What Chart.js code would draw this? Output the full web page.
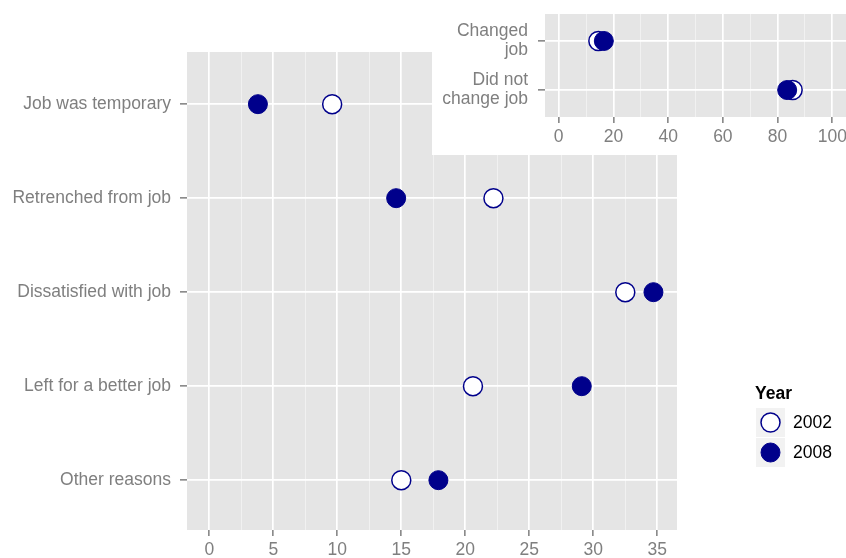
<!DOCTYPE html>
<html>
<head>
<meta charset="utf-8">
<script src="https://cdn.jsdelivr.net/npm/chart.js@4.4.1/dist/chart.umd.min.js"></script>
<style>
	html, body { margin: 0; padding: 0; background: #fff; overflow: hidden; }
	#wrap { position: relative; width: 846px; height: 558px; }
	#mainChart { position: absolute; left: 0; top: 0; }
	#insetChart { position: absolute; left: 432px; top: 0; background: #fff; }
</style>
</head>
<body>
<div id="wrap">
	<canvas id="mainChart" width="846" height="558"></canvas>
	<canvas id="insetChart" width="414" height="155"></canvas>
</div>

<script>
// ---- data ----
var years = ['2002', '2008'];

var reasons = ['Job was temporary', 'Retrenched from job', 'Dissatisfied with job', 'Left for a better job', 'Other reasons'];
var reasons2002 = [9.6, 22.2, 32.5, 20.6, 15.0];
var reasons2008 = [3.8, 14.6, 34.7, 29.1, 17.9];
var reasonTicks = [0, 5, 10, 15, 20, 25, 30, 35];

var changed = [['Changed', 'job'], ['Did not', 'change job']];
var changed2002 = [14.5, 85.5];
var changed2008 = [16.5, 83.5];
var changedTicks = [0, 20, 40, 60, 80, 100];

var NAVY = '#00008B';
var FONT = "'Liberation Sans', Arial, Helvetica, sans-serif";
var GREY = '#7F7F7F';
var FSIZE = 17.5;

function toPoints(vals) {
	return vals.map(function (v, i) { return { x: v, y: i }; });
}

function makeDatasets(a, b) {
	return [
		{ label: years[0], data: toPoints(a), order: 2,
		  backgroundColor: '#ffffff', borderColor: NAVY, borderWidth: 1.5, pointRadius: 9.5 },
		{ label: years[1], data: toPoints(b), order: 1,
		  backgroundColor: NAVY, borderColor: NAVY, borderWidth: 1, pointRadius: 9.5 }
	];
}

// grey panel behind the points
var panelBg = {
	id: 'panelBg',
	beforeDraw: function (chart) {
		var a = chart.chartArea, ctx = chart.ctx;
		ctx.save();
		ctx.fillStyle = '#E5E5E5';
		ctx.fillRect(a.left, a.top, a.right - a.left, a.bottom - a.top);
		ctx.restore();
	}
};

// ggplot style legend on the right
var yearLegend = {
	id: 'yearLegend',
	afterDraw: function (chart) {
		var ctx = chart.ctx;
		ctx.save();
		ctx.fillStyle = '#000';
		ctx.font = 'bold ' + FSIZE + 'px ' + FONT;
		ctx.textBaseline = 'middle';
		ctx.textAlign = 'left';
		ctx.fillText('Year', 755, 394);
		chart.data.datasets.forEach(function (ds, i) {
			var top = 408 + i * 30;
			ctx.fillStyle = '#F2F2F2';
			ctx.fillRect(756, top, 29, 29);
			ctx.beginPath();
			ctx.arc(770.5, top + 14.5, 9.5, 0, Math.PI * 2);
			ctx.fillStyle = ds.backgroundColor;
			ctx.fill();
			ctx.lineWidth = ds.borderWidth;
			ctx.strokeStyle = ds.borderColor;
			ctx.stroke();
			ctx.fillStyle = '#000';
			ctx.font = FSIZE + 'px ' + FONT;
			ctx.fillText(ds.label, 793, top + 15);
		});
		ctx.restore();
	}
};

function xScale(min, max, ticks, minorStep, height) {
	return {
		type: 'linear', min: min, max: max,
		border: { display: false },
		afterBuildTicks: function (s) {
			var t = [];
			for (var v = ticks[0]; v <= ticks[ticks.length - 1] + 1e-9; v += minorStep) t.push({ value: v });
			s.ticks = t;
		},
		afterFit: function (s) { s.height = height; s.paddingLeft = 0; s.paddingRight = 0; },
		grid: {
			drawTicks: true, tickLength: 6,
			color: function (c) { return ticks.indexOf(c.tick.value) >= 0 ? '#ffffff' : '#F2F2F2'; },
			lineWidth: function (c) { return ticks.indexOf(c.tick.value) >= 0 ? 1.7 : 0.9; },
			tickColor: function (c) { return ticks.indexOf(c.tick.value) >= 0 ? GREY : 'rgba(0,0,0,0)'; },
			tickWidth: 1.5
		},
		ticks: {
			autoSkip: false, maxRotation: 0, padding: 4, color: GREY,
			font: { family: FONT, size: FSIZE },
			callback: function (v) { return ticks.indexOf(v) >= 0 ? String(v) : ''; }
		}
	};
}

function yScale(labels, padTop, padBottom, width, labelPad) {
	return {
		type: 'linear', reverse: true, min: -padTop, max: labels.length - 1 + padBottom,
		border: { display: false },
		afterBuildTicks: function (s) {
			s.ticks = labels.map(function (l, i) { return { value: i }; });
		},
		afterFit: function (s) { s.width = width; s.paddingTop = 0; s.paddingBottom = 0; },
		grid: { color: '#ffffff', lineWidth: 1.7, tickLength: 7, tickColor: GREY, tickWidth: 1.5 },
		ticks: {
			autoSkip: false, padding: labelPad, color: GREY,
			font: { family: FONT, size: FSIZE, lineHeight: 1.08 },
			callback: function (v) { return labels[v]; }
		}
	};
}

function baseOptions(pad, xs, ys) {
	return {
		responsive: false, animation: false, events: [],
		layout: { padding: pad, autoPadding: false },
		plugins: { legend: { display: false }, tooltip: { enabled: false } },
		scales: { x: xs, y: ys }
	};
}

new Chart(document.getElementById('mainChart'), {
	type: 'scatter',
	data: { datasets: makeDatasets(reasons2002, reasons2008) },
	options: baseOptions({ top: 52, right: 169, bottom: 0, left: 0 },
		xScale(-1.74, 36.54, reasonTicks, 2.5, 28),
		yScale(reasons, 0.555, 0.53, 187, 9)),
	plugins: [panelBg, yearLegend]
});

new Chart(document.getElementById('insetChart'), {
	type: 'scatter',
	data: { datasets: makeDatasets(changed2002, changed2008) },
	options: baseOptions({ top: 14, right: 0, bottom: 0, left: 0 },
		xScale(-5, 105, changedTicks, 10, 38),
		yScale(changed, 0.55, 0.55, 113, 10)),
	plugins: [panelBg]
});
</script>
</body>
</html>
